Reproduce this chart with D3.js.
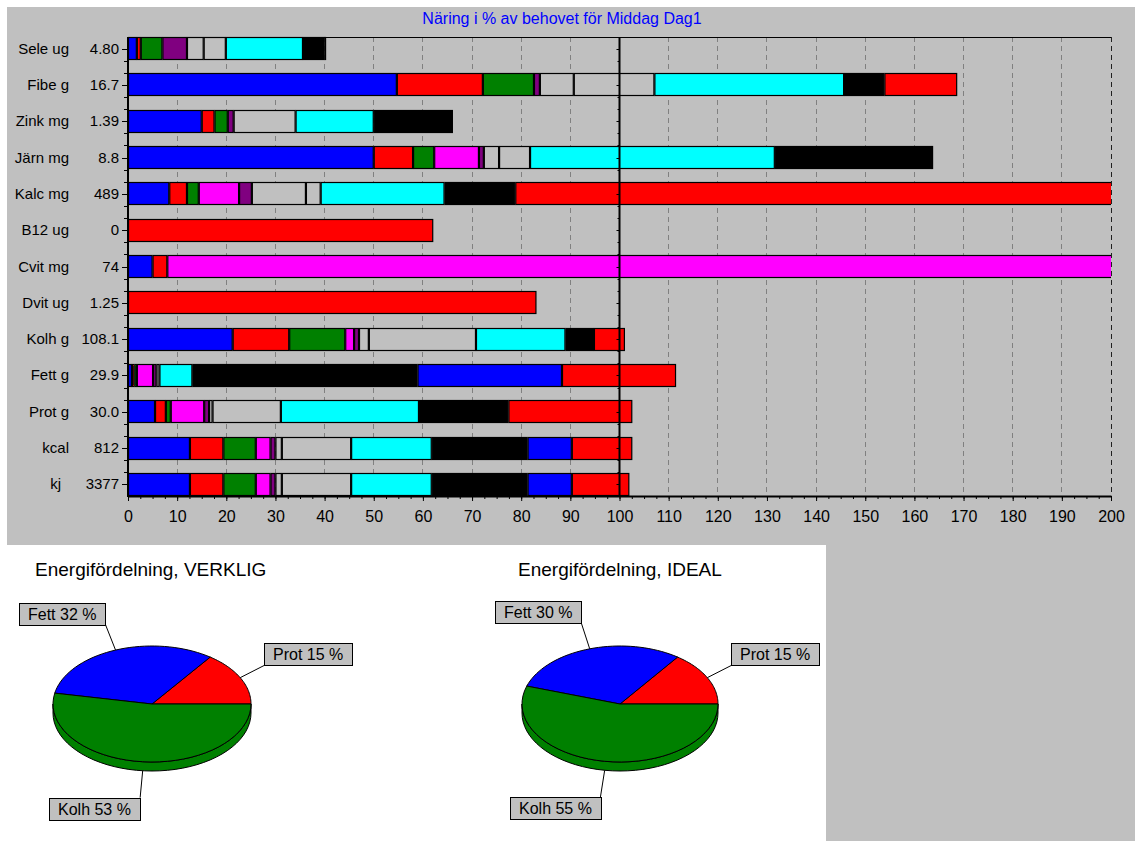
<!DOCTYPE html>
<html>
<head>
<meta charset="utf-8">
<script src="https://cdn.jsdelivr.net/npm/d3@7"></script>
<style>
	body{ margin:0; background:#ffffff; }
	svg{ display:block; font-family: Arial, "Liberation Sans", sans-serif; }
</style>
</head>
<body>
<svg id="chart" width="1135" height="841"></svg>
<script>

// Rows, top to bottom.
let nutrients = ["Sele ug", "Fibe g", "Zink mg", "Järn mg", "Kalc mg", "B12 ug", "Cvit mg", "Dvit ug", "Kolh g", "Fett g", "Prot g", "kcal", "kj"];
let amounts   = ["4.80", "16.7", "1.39", "8.8", "489", "0", "74", "1.25", "108.1", "29.9", "30.0", "812", "3377"];

// One colour per food, in the stacking order.
let foodColors = ["#0000ff", "#ff0000", "#008000", "#ff00ff", "#800080", "#c0c0c0", "#c0c0c0", "#00ffff", "#000000", "#0000ff", "#ff0000"];

// % of need contributed by each food, per row.
let seleVals = [1.8, 0.8, 4.4, 0, 5.0, 3.4, 4.5, 15.7, 4.4, 0, 0.3];
let fibeVals = [54.7, 17.5, 10.4, 0, 1.2, 6.9, 16.4, 38.6, 8.2, 0, 14.8];
let zinkVals = [15.0, 2.6, 2.7, 0, 1.2, 12.6, 0, 15.9, 16.1, 0, 0.2];
let jarnVals = [50.0, 8.0, 4.3, 9.1, 1.0, 3.1, 6.3, 49.8, 31.8, 0, 0.4];
let kalcVals = [8.4, 3.6, 2.4, 8.2, 2.6, 11.0, 3.0, 25.2, 14.4, 0, 130];
let b12Vals  = [0, 62.1, 0, 0, 0, 0, 0, 0, 0, 0, 0];
let cvitVals = [5.0, 3.0, 0, 200, 0, 0, 0, 0, 0, 0, 0];
let dvitVals = [0, 83.1, 0, 0, 0, 0, 0, 0, 0, 0, 0];
let kolhVals = [21.3, 11.5, 11.4, 1.8, 1.0, 2.0, 21.8, 18.2, 5.8, 0, 6.3];
let fettVals = [0.8, 0.5, 0.5, 3.3, 0.7, 0.6, 0, 6.7, 45.8, 29.4, 23.2];
let protVals = [5.5, 2.2, 1.0, 6.8, 1.0, 0.7, 13.9, 28.1, 18.2, 0, 25.2];
let kcalVals = [12.6, 6.8, 6.6, 3.0, 1.0, 1.3, 14.1, 16.4, 19.5, 9.0, 12.3];
let kjVals   = [12.6, 6.8, 6.6, 3.0, 1.0, 1.3, 14.1, 16.4, 19.5, 9.0, 11.7];
let rowValues = [seleVals, fibeVals, zinkVals, jarnVals, kalcVals, b12Vals, cvitVals, dvitVals, kolhVals, fettVals, protVals, kcalVals, kjVals];

let xTicks = d3.range(0, 201, 10);

// Energy distribution pies.
let pieLabels = ["Prot", "Fett", "Kolh"];
let pieColors = ["#ff0000", "#0000ff", "#008000"];
let actualShares = [15, 32, 53];
let idealShares  = [15, 30, 55];



let svg = d3.select("#chart");
let gray = "#c0c0c0";

// Backgrounds.
svg.append("rect").attr("x", 7).attr("y", 7).attr("width", 1128).attr("height", 538).attr("fill", gray);
svg.append("rect").attr("x", 826).attr("y", 545).attr("width", 309).attr("height", 296).attr("fill", gray);


// Bar chart scales.
let x = d3.scaleLinear().domain([0, 200]).range([128, 1111]);
let y = d3.scaleBand().domain(nutrients).range([37, 496]).paddingInner(0.366).paddingOuter(0);
let plotTop = 37, plotBottom = 496;

svg.append("text")
	.attr("x", 562).attr("y", 24)
	.attr("text-anchor", "middle")
	.attr("font-size", 16)
	.attr("fill", "#0000ff")
	.text("Näring i % av behovet för Middag Dag1");


// Dashed grid.
svg.append("g").selectAll("line")
  .data(xTicks.filter(v=>v>0 && v!=100))
  .enter().append("line")
	.attr("x1", d=>x(d)).attr("x2", d=>x(d))
	.attr("y1", plotTop).attr("y2", plotBottom)
	.attr("stroke", d=>d==200 ? "#202020" : "#808080")
	.attr("stroke-dasharray", "5,4")
	.attr("shape-rendering", "crispEdges");

svg.append("line")
	.attr("x1", x(0)).attr("x2", x(200))
	.attr("y1", plotTop+0.5).attr("y2", plotTop+0.5)
	.attr("stroke", "#000");


// Stacked bars.
svg.append("defs").append("clipPath").attr("id", "plotclip")
  .append("rect")
	.attr("x", x(0)).attr("y", plotTop - 1)
	.attr("width", x(200) - x(0)).attr("height", plotBottom - plotTop + 2);

let segments = [];
rowValues.forEach((vals, i)=>{
	let start = 0;
	vals.forEach((v, j)=>{
		if(v > 0){
			segments.push({row: nutrients[i], x0: start, x1: start + v, color: foodColors[j]});
		} // if
		start += v;
	});
});

svg.append("g").attr("clip-path", "url(#plotclip)")
  .selectAll("rect")
  .data(segments)
  .enter().append("rect")
	.attr("x", d=>x(d.x0) + 0.5)
	.attr("y", d=>Math.round(y(d.row)) + 0.5)
	.attr("width", d=>Math.max(0, x(d.x1) - x(d.x0) - 1))
	.attr("height", Math.round(y.bandwidth()) - 1)
	.attr("fill", d=>d.color)
	.attr("stroke", "#000")
	.attr("stroke-width", 1.2);


// Left and 100% axes with their little ticks.
function rowTicks(xpos, major, minor){
	let g = svg.append("g");
	let step = y.step();
	nutrients.forEach(n=>{
		let c = y(n) + y.bandwidth()/2;
		[[c, major], [c - step/3, minor], [c + step/3, minor]].forEach(t=>{
			if(t[0] > plotTop && t[0] < plotBottom){
				g.append("line")
					.attr("x1", xpos - t[1]).attr("x2", xpos)
					.attr("y1", Math.round(t[0]) + 0.5).attr("y2", Math.round(t[0]) + 0.5)
					.attr("stroke", "#000");
			} // if
		});
	});
} // rowTicks

svg.append("line")
	.attr("x1", x(100)).attr("x2", x(100))
	.attr("y1", plotTop).attr("y2", plotBottom)
	.attr("stroke", "#000").attr("stroke-width", 2);
rowTicks(x(100), 3, 2);

svg.append("line")
	.attr("x1", x(0)).attr("x2", x(0))
	.attr("y1", plotTop).attr("y2", plotBottom + 1)
	.attr("stroke", "#000").attr("stroke-width", 2);
rowTicks(x(0) - 1, 5, 3);


// Row labels.
let labels = svg.append("g").attr("font-size", 15).attr("fill", "#000");
nutrients.forEach((n, i)=>{
	let cy = y(n) + y.bandwidth()/2 + 5;
	labels.append("text").attr("x", n == "kj" ? 61 : 69).attr("y", cy).attr("text-anchor", "end").text(n);
	labels.append("text").attr("x", 119).attr("y", cy).attr("text-anchor", "end").text(amounts[i]);
});


// Bottom axis.
let minorAxis = d3.axisBottom(x)
	.tickValues(d3.range(0, 200.1, 2.5))
	.tickSize(3).tickSizeOuter(0).tickFormat("");
svg.append("g").attr("transform", `translate(0,${plotBottom})`).call(minorAxis)
	.call(g=>g.select(".domain").remove());

let xAxis = d3.axisBottom(x)
	.tickValues(xTicks)
	.tickSize(5).tickSizeOuter(0).tickPadding(10);
svg.append("g")
	.attr("transform", `translate(0,${plotBottom})`)
	.call(xAxis)
	.call(g=>g.select(".domain").attr("stroke-width", 2))
	.call(g=>g.selectAll("text").attr("font-size", 16).attr("font-family", "Arial, 'Liberation Sans', sans-serif").attr("fill", "#000"));


// Pies.
function drawPie(shares, title, titleX, cx, cy, rx, ry){
	let depth = 9;
	let g = svg.append("g");
	
	g.append("text")
		.attr("x", titleX).attr("y", 576)
		.attr("font-size", 19)
		.text(title);
	
	let arcs = d3.pie().sort(null)
		.startAngle(Math.PI/2).endAngle(Math.PI/2 - 2*Math.PI)(shares);
	
	// Math angles, counterclockwise from east.
	let pt = (t, dy=0)=>[cx + rx*Math.cos(t), cy - ry*Math.sin(t) + dy];
	let sample = (a, b, dy=0)=>d3.range(0, 41).map(k=>pt(a + (b - a)*k/40, dy));
	
	let slices = arcs.map((a, i)=>({
		t0: Math.PI/2 - a.startAngle,
		t1: Math.PI/2 - a.endAngle,
		color: pieColors[i],
		label: `${pieLabels[i]} ${shares[i]} %`
	}));
	
	let line = d3.line();
	
	// Visible side of the disc.
	slices.forEach(s=>{
		let a = Math.max(s.t0, Math.PI), b = Math.min(s.t1, 2*Math.PI);
		if(a < b){
			let pts = sample(a, b).concat(sample(b, a, depth));
			g.append("path").attr("d", line(pts) + "Z")
				.attr("fill", s.color).attr("stroke", "#000");
		} // if
	});
	
	// Top face.
	slices.forEach(s=>{
		let pts = [[cx, cy]].concat(sample(s.t0, s.t1));
		g.append("path").attr("d", line(pts) + "Z")
			.attr("fill", s.color).attr("stroke", "#000");
	});
	
	// Leaders and label boxes.
	slices.forEach(s=>{
		let tm = (s.t0 + s.t1)/2;
		let c = Math.cos(tm), sn = Math.sin(tm);
		let p0 = pt(tm, sn < 0 ? depth : 0);
		let p1 = [p0[0] + 27*c, p0[1] - 27*sn];
		g.append("line")
			.attr("x1", p0[0]).attr("y1", p0[1])
			.attr("x2", p1[0]).attr("y2", p1[1])
			.attr("stroke", "#000");
		
		let box = g.append("rect").attr("fill", gray).attr("stroke", "#000");
		let txt = g.append("text").attr("font-size", 16).text(s.label);
		let w = txt.node().getComputedTextLength() + 18, h = 22;
		let bx = c < 0 ? p1[0] - w : p1[0];
		let by = sn > 0 ? p1[1] - h : p1[1];
		box.attr("x", Math.round(bx) + 0.5).attr("y", Math.round(by) + 0.5).attr("width", Math.round(w)).attr("height", h);
		txt.attr("x", Math.round(bx) + 9).attr("y", Math.round(by) + 17);
	});
} // drawPie

drawPie(actualShares, "Energifördelning, VERKLIG", 35, 152, 704, 99, 58);
drawPie(idealShares, "Energifördelning, IDEAL", 518, 620, 704, 98, 58);

</script>
</body>
</html>
